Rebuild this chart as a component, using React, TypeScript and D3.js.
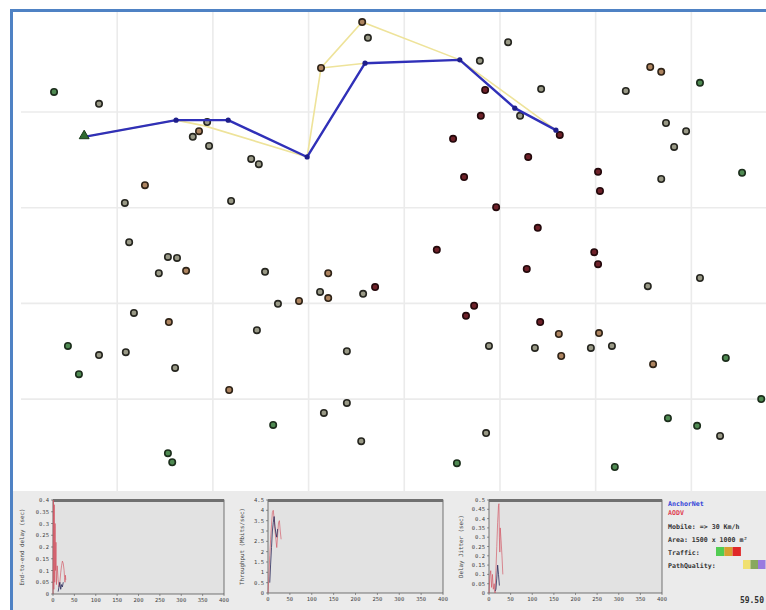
import React from 'react';
import * as d3 from 'd3';

const W = 766;
const H = 610;

// Simulation area (meters)
const nodeX = [68,162,388,371,358,392,480,496,258,216,225,438,626,712,724,1017,958,969,1086,960,1042,1125,902,1059,1205,1209,925,992,1079,868,1197,1263,1314,1337,1418,1347,1389,1364,1337,1506,306,325,287,344,509,641,624,641,714,739,536,580,235,308,492,97,162,218,120,321,434,680,680,632,526,710,306,315,1205,1056,1418,1309,946,929,1084,1123,1207,977,1073,1128,1190,1234,1320,1472,1546,1351,1412,1460,971,910,1240];
const nodeY = [158,183,221,240,252,271,298,309,353,390,472,386,108,12,45,54,93,154,152,208,208,248,256,294,325,365,336,399,442,488,493,156,106,116,139,223,240,273,340,327,503,505,537,532,534,537,576,589,580,566,601,595,620,639,656,689,708,702,748,735,781,700,808,829,854,888,913,932,518,528,547,564,605,626,639,664,662,689,693,710,693,689,727,714,800,840,856,877,871,934,942];
const nodeTraffic = ['g','n','n','o','n','n','n','n','o','n','n','n','o','o','n','n','n','r','n','r','n','r','r','r','r','r','r','r','r','r','r','n','o','o','g','n','n','n','n','g','n','n','n','o','n','o','n','o','n','r','n','o','n','o','n','g','n','n','g','n','o','n','n','n','g','n','g','g','r','r','n','n','r','r','r','o','o','n','n','o','n','n','o','g','g','g','g','n','n','g','g'];

const sourceX = 131;
const sourceY = 252;
const anchorPathX = [131,323,432,597,718,916,1031,1117];
const anchorPathY = [252,217,217,294,98,91,192,238];
const aodvPathX = [131,323,383,597,626,712,916,1117];
const aodvPathY = [252,217,229,294,108,12,91,238];
const aodvBranchX = [626,718];
const aodvBranchY = [108,98];

const gridXTicks = [200,400,600,800,1000,1200,1400];
const gridYTicks = [200,400,600,800];

// Small charts (time in s)
const timeTicks = [0,50,100,150,200,250,300,350,400];

const delayTicks = [0,0.05,0.1,0.15,0.2,0.25,0.3,0.35,0.4];
const delayAodvT = [0,1,2,3,4,5,6,7,8,10,12,14,16,18,20,22,24,26,27,28,29,30];
const delayAodvV = [0,0.4,0.02,0.38,0.05,0.3,0.1,0.22,0.04,0.12,0.06,0.03,0.05,0.09,0.12,0.14,0.13,0.1,0.07,0.05,0.08,0.06];
const delayAnchorT = [12,14,16,18,20,22,24];
const delayAnchorV = [0.01,0.03,0.05,0.02,0.04,0.03,0.05];

const thrTicks = [0,0.5,1,1.5,2,2.5,3,3.5,4,4.5];
const thrAodvT = [0,2,4,6,8,10,12,14,16,18,20,22,24,26,28,30];
const thrAodvV = [0,0.8,1.8,2.6,3.3,3.9,4.0,3.6,3.0,2.6,2.2,2.8,3.4,3.5,3.0,2.6];
const thrAnchorT = [4,6,8,10,12,14,16,18,20,22];
const thrAnchorV = [0.5,1.4,2.2,3.0,3.4,3.7,3.2,2.9,2.7,3.1];

const jitTicks = [0,0.05,0.1,0.15,0.2,0.25,0.3,0.35,0.4,0.45,0.5];
const jitAodvT = [0,2,4,6,8,10,12,14,16,18,20,22,23,24,25,26,28,30,32];
const jitAodvV = [0,0.09,0.12,0.03,0.1,0.02,0.05,0.0,0.12,0.25,0.38,0.47,0.48,0.3,0.22,0.35,0.28,0.2,0.1];
const jitAnchorT = [14,16,18,20,22,24];
const jitAnchorV = [0.01,0.02,0.08,0.15,0.1,0.04];

const legendLines = ['Mobile: => 30 Km/h', 'Area: 1500 x 1000 m\u00b2'];
const trafficColors = ['#52cc52', '#d8a030', '#e02828'];
const qualityColors = ['#f0e070', '#88a860', '#9a7ae0'];
const clockText = '59.50';

const fillOf: Record<string, string> = { g: '#4f8a52', n: '#999986', o: '#ad8460', r: '#6e2129' };
const strokeOf: Record<string, string> = { g: '#1c2e1c', n: '#262620', o: '#302418', r: '#24090c' };

const xS = d3.scaleLinear().domain([0, 1550]).range([21.5, 21.5 + 1550 / 2.09]);
const yS = d3.scaleLinear().domain([0, 1000]).range([16.3, 16.3 + 1000 / 2.09]);

const mono = 'DejaVu Sans Mono, monospace';

function SmallChart(props: {
  x: number; y: number; w: number; h: number; ticks: number[]; label: string; labelX: number;
  aT: number[]; aV: number[]; bT: number[]; bV: number[];
}) {
  const { x, y, w, h, ticks, label, labelX, aT, aV, bT, bV } = props;
  const sx = d3.scaleLinear().domain([0, 400]).range([x, x + w]);
  const sy = d3.scaleLinear().domain([0, ticks[ticks.length - 1]]).range([y + h, y]);
  const line = d3.line<[number, number]>().x(d => sx(d[0])).y(d => sy(d[1]));
  const a = aT.map((t, i) => [t, aV[i]] as [number, number]);
  const b = bT.map((t, i) => [t, bV[i]] as [number, number]);
  return (
    <g>
      <rect x={x} y={y} width={w} height={h} fill="#e2e2e2" stroke="#555" strokeWidth={0.8} />
      <line x1={x} x2={x + w} y1={y + 0.5} y2={y + 0.5} stroke="#707070" strokeWidth={3} />
      <path d={line(a) || ''} fill="none" stroke="#d2505e" strokeWidth={0.8} opacity={0.8} />
      <path d={line(b) || ''} fill="none" stroke="#2a2a5a" strokeWidth={0.8} />
      {ticks.map((t, i) => (
        <g key={'y' + i}>
          <line x1={x - 2} x2={x} y1={sy(t)} y2={sy(t)} stroke="#555" strokeWidth={0.6} />
          <text x={x - 4} y={sy(t) + 2} fontSize={5.5} textAnchor="end" fill="#444" fontFamily={mono}>{String(+t.toFixed(3))}</text>
        </g>
      ))}
      {timeTicks.map((t, i) => (
        <g key={'x' + i}>
          <line x1={sx(t)} x2={sx(t)} y1={y + h} y2={y + h + 2} stroke="#555" strokeWidth={0.6} />
          <text x={sx(t)} y={y + h + 8} fontSize={5.5} textAnchor="middle" fill="#444" fontFamily={mono}>{t}</text>
        </g>
      ))}
      <text transform={`translate(${labelX},${y + h / 2}) rotate(-90)`} fontSize={5.8} textAnchor="middle" fill="#444" fontFamily={mono}>{label}</text>
    </g>
  );
}

export default function App() {
  const pathLine = d3.line<[number, number]>().x(d => xS(d[0])).y(d => yS(d[1]));
  const anchorPts = anchorPathX.map((v, i) => [v, anchorPathY[i]] as [number, number]);
  const aodvPts = aodvPathX.map((v, i) => [v, aodvPathY[i]] as [number, number]);
  const branchPts = aodvBranchX.map((v, i) => [v, aodvBranchY[i]] as [number, number]);
  const tri = d3.symbol(d3.symbolTriangle, 42)();
  const panelTop = 491;
  return (
    <div style={{ position: 'fixed', left: 0, top: 0, width: W, height: H }}>
      <svg width={W} height={H} style={{ display: 'block' }}>
        <rect x={0} y={0} width={W} height={H} fill="#ffffff" />
        {gridXTicks.map(t => (
          <line key={'gx' + t} x1={xS(t)} x2={xS(t)} y1={12} y2={panelTop} stroke="#ebebeb" strokeWidth={1.6} />
        ))}
        {gridYTicks.map(t => (
          <line key={'gy' + t} x1={21} x2={W} y1={yS(t)} y2={yS(t)} stroke="#ebebeb" strokeWidth={1.6} />
        ))}
        <path d={pathLine(aodvPts) || ''} fill="none" stroke="#eee39a" strokeWidth={1.6} />
        <path d={pathLine(branchPts) || ''} fill="none" stroke="#eee39a" strokeWidth={1.4} />
        {nodeX.map((v, i) => (
          <circle key={'n' + i} cx={xS(v)} cy={yS(nodeY[i])} r={3.2}
            fill={fillOf[nodeTraffic[i]]} stroke={strokeOf[nodeTraffic[i]]} strokeWidth={1.6} />
        ))}
        <path d={pathLine(anchorPts) || ''} fill="none" stroke="#3030b8" strokeWidth={2.4} strokeLinejoin="round" />
        {anchorPts.slice(1).map((p, i) => (
          <circle key={'a' + i} cx={xS(p[0])} cy={yS(p[1])} r={2.6} fill="#1e1e8a" />
        ))}
        <path d={tri || ''} transform={`translate(${xS(sourceX)},${yS(sourceY) - 1})`} fill="#2f6a30" stroke="#1a3a1a" strokeWidth={1} />

        {/* bottom panel */}
        <rect x={12} y={panelTop} width={W - 12} height={H - panelTop} fill="#ebebeb" />
        <SmallChart x={53} y={500} w={171} h={94} ticks={delayTicks} label="End-to-end delay (sec)" labelX={24}
          aT={delayAodvT} aV={delayAodvV} bT={delayAnchorT} bV={delayAnchorV} />
        <SmallChart x={268} y={500} w={175} h={93} ticks={thrTicks} label="Throughput (Mbits/sec)" labelX={244}
          aT={thrAodvT} aV={thrAodvV} bT={thrAnchorT} bV={thrAnchorV} />
        <SmallChart x={489} y={500} w={173} h={93} ticks={jitTicks} label="Delay Jitter (sec)" labelX={463}
          aT={jitAodvT} aV={jitAodvV} bT={jitAnchorT} bV={jitAnchorV} />

        <g fontFamily={mono} fontWeight="bold" fontSize={6.6}>
          <text x={668} y={506} fill="#2f3fd8">AnchorNet</text>
          <text x={668} y={515} fill="#e04050">AODV</text>
          {legendLines.map((s, i) => (
            <text key={'l' + i} x={668} y={529 + i * 12.5} fill="#333">{s}</text>
          ))}
          <text x={668} y={555} fill="#333">Traffic:</text>
          {trafficColors.map((c, i) => (
            <rect key={'t' + i} x={716 + i * 8.3} y={547} width={8.3} height={9} fill={c} />
          ))}
          <text x={668} y={568} fill="#333">PathQuality:</text>
          {qualityColors.map((c, i) => (
            <rect key={'q' + i} x={743 + i * 7.5} y={560} width={7.5} height={9} fill={c} />
          ))}
          <text x={764} y={603} fontSize={8} textAnchor="end" fill="#333">{clockText}</text>
        </g>

        {/* frame */}
        <line x1={11.5} x2={11.5} y1={9} y2={H} stroke="#4f82c4" strokeWidth={3} />
        <line x1={10} x2={W} y1={10.5} y2={10.5} stroke="#4f82c4" strokeWidth={3} />
      </svg>
    </div>
  );
}
